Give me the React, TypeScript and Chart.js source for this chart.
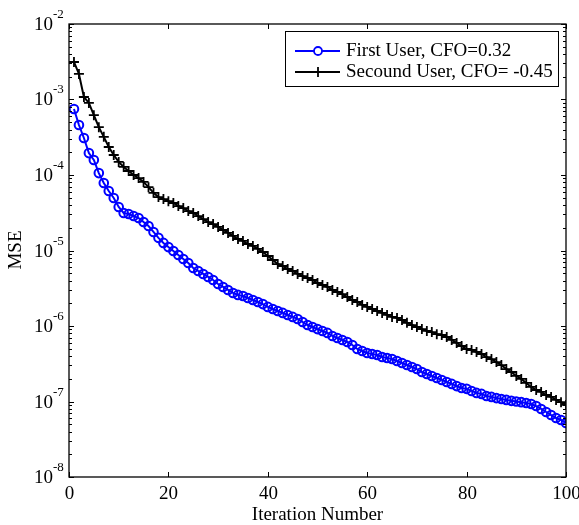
import React, { useEffect, useRef } from "react";
import { Chart, registerables } from "chart.js";

Chart.register(...registerables);

const iterations: number[] = Array.from({ length: 100 }, (_, i) => i + 1);

const firstUser: number[] = [
  7.48e-4, 4.59e-4, 3.09e-4, 1.95e-4, 1.58e-4, 1.06e-4, 7.83e-5, 6.14e-5, 4.96e-5, 3.77e-5,
  3.14e-5, 3.04e-5, 2.86e-5, 2.69e-5, 2.38e-5, 2.11e-5, 1.76e-5, 1.47e-5, 1.26e-5, 1.11e-5,
  9.85e-6, 8.71e-6, 7.71e-6, 6.83e-6, 5.86e-6, 5.35e-6, 4.89e-6, 4.46e-6, 4.07e-6, 3.6e-6,
  3.29e-6, 3.0e-6, 2.74e-6, 2.58e-6, 2.5e-6, 2.35e-6, 2.21e-6, 2.08e-6, 1.95e-6, 1.79e-6,
  1.68e-6, 1.58e-6, 1.49e-6, 1.4e-6, 1.32e-6, 1.24e-6, 1.13e-6, 1.03e-6, 9.7e-7, 9.1e-7,
  8.6e-7, 8.1e-7, 7.38e-7, 6.93e-7, 6.53e-7, 6.14e-7, 5.6e-7, 4.96e-7, 4.67e-7, 4.39e-7,
  4.26e-7, 4.13e-7, 3.88e-7, 3.77e-7, 3.65e-7, 3.44e-7, 3.24e-7, 3.04e-7, 2.86e-7, 2.69e-7,
  2.46e-7, 2.31e-7, 2.18e-7, 2.05e-7, 1.93e-7, 1.81e-7, 1.71e-7, 1.6e-7, 1.51e-7, 1.47e-7,
  1.38e-7, 1.3e-7, 1.26e-7, 1.18e-7, 1.15e-7, 1.11e-7, 1.08e-7, 1.05e-7, 1.02e-7, 1.0e-7,
  9.8e-8, 9.55e-8, 9.27e-8, 8.71e-8, 7.96e-8, 7.26e-8, 6.62e-8, 6.04e-8, 5.69e-8, 5.19e-8,
];

const secondUser: number[] = [
  3.14e-3, 2.18e-3, 1.08e-3, 9.0e-4, 6.2e-4, 4.3e-4, 3.2e-4, 2.35e-4, 1.84e-4, 1.49e-4,
  1.28e-4, 1.13e-4, 1.0e-4, 9.1e-5, 8.1e-5, 6.9e-5, 5.8e-5, 5.1e-5, 4.8e-5, 4.5e-5,
  4.26e-5, 3.88e-5, 3.65e-5, 3.33e-5, 3.14e-5, 2.86e-5, 2.61e-5, 2.38e-5, 2.24e-5, 2.05e-5,
  1.87e-5, 1.71e-5, 1.56e-5, 1.42e-5, 1.34e-5, 1.22e-5, 1.15e-5, 1.05e-5, 9.55e-6, 8.46e-6,
  7.49e-6, 6.62e-6, 6.23e-6, 5.69e-6, 5.35e-6, 4.89e-6, 4.59e-6, 4.32e-6, 4.07e-6, 3.71e-6,
  3.49e-6, 3.29e-6, 3.0e-6, 2.82e-6, 2.65e-6, 2.42e-6, 2.21e-6, 2.08e-6, 1.9e-6, 1.79e-6,
  1.68e-6, 1.58e-6, 1.49e-6, 1.4e-6, 1.32e-6, 1.28e-6, 1.2e-6, 1.1e-6, 1.03e-6, 9.7e-7,
  9.1e-7, 8.6e-7, 8.3e-7, 7.8e-7, 7.6e-7, 7.15e-7, 6.53e-7, 5.96e-7, 5.43e-7, 4.96e-7,
  4.81e-7, 4.53e-7, 4.26e-7, 3.88e-7, 3.65e-7, 3.33e-7, 3.04e-7, 2.69e-7, 2.46e-7, 2.18e-7,
  1.99e-7, 1.76e-7, 1.56e-7, 1.42e-7, 1.34e-7, 1.22e-7, 1.15e-7, 1.05e-7, 9.8e-8, 9.0e-8,
];

const xTicks: number[] = [0, 20, 40, 60, 80, 100];
const yExponents: number[] = [-8, -7, -6, -5, -4, -3, -2];
const seriesLabels: string[] = ["First User, CFO=0.32", "Secound User, CFO= -0.45"];
const xTitle = "Iteration Number";
const yTitle = "MSE";

const FONT = '"Liberation Serif", "Times New Roman", serif';

const axesPlugin = {
  id: "matlabAxes",
  afterDraw(chart: any) {
    const { ctx, chartArea } = chart;
    const { left, right, top, bottom } = chartArea;
    const xs = chart.scales.x;
    const ys = chart.scales.y;
    ctx.save();
    ctx.strokeStyle = "#000";
    ctx.fillStyle = "#000";
    ctx.lineWidth = 1.3;
    ctx.strokeRect(left, top, right - left, bottom - top);

    // x ticks
    ctx.lineWidth = 1;
    ctx.font = `19px ${FONT}`;
    ctx.textAlign = "center";
    ctx.textBaseline = "alphabetic";
    xTicks.forEach((v) => {
      const px = Math.round(xs.getPixelForValue(v)) + 0.5;
      ctx.beginPath();
      ctx.moveTo(px, bottom);
      ctx.lineTo(px, bottom - 5);
      ctx.moveTo(px, top);
      ctx.lineTo(px, top + 5);
      ctx.stroke();
      ctx.fillText(String(v), px, bottom + 22);
    });

    // y ticks
    yExponents.forEach((e, idx) => {
      const py = Math.round(ys.getPixelForValue(Math.pow(10, e))) + 0.5;
      ctx.beginPath();
      ctx.moveTo(left, py);
      ctx.lineTo(left + 5, py);
      ctx.moveTo(right, py);
      ctx.lineTo(right - 5, py);
      ctx.stroke();
      if (idx < yExponents.length - 1) {
        for (let m = 2; m <= 9; m++) {
          const my = Math.round(ys.getPixelForValue(m * Math.pow(10, e))) + 0.5;
          ctx.beginPath();
          ctx.moveTo(left, my);
          ctx.lineTo(left + 3, my);
          ctx.moveTo(right, my);
          ctx.lineTo(right - 3, my);
          ctx.stroke();
        }
      }
      ctx.font = `19px ${FONT}`;
      ctx.textAlign = "right";
      ctx.textBaseline = "middle";
      ctx.fillText("10", 53, py + 1);
      ctx.font = `13px ${FONT}`;
      ctx.textAlign = "left";
      ctx.fillText(String(e), 53, py - 10);
    });

    // titles
    ctx.font = `19px ${FONT}`;
    ctx.textAlign = "center";
    ctx.textBaseline = "middle";
    ctx.fillText(xTitle, (left + right) / 2, 515);
    ctx.save();
    ctx.translate(16, 250);
    ctx.rotate(-Math.PI / 2);
    ctx.fillText(yTitle, 0, 0);
    ctx.restore();

    // legend
    const lx = 285.5, ly = 31.5, lw = 273, lh = 55;
    ctx.fillStyle = "#fff";
    ctx.fillRect(lx, ly, lw, lh);
    ctx.strokeStyle = "#000";
    ctx.lineWidth = 1;
    ctx.strokeRect(lx, ly, lw, lh);
    const rows = [
      { y: 51, color: "#0000ff", marker: "circle" },
      { y: 72, color: "#000000", marker: "cross" },
    ];
    rows.forEach((r, i) => {
      ctx.strokeStyle = r.color;
      ctx.lineWidth = 1.8;
      ctx.beginPath();
      ctx.moveTo(295, r.y);
      ctx.lineTo(340, r.y);
      ctx.stroke();
      if (r.marker === "circle") {
        ctx.beginPath();
        ctx.arc(318, r.y, 4, 0, Math.PI * 2);
        ctx.fillStyle = "#fff";
        ctx.fill();
        ctx.stroke();
      } else {
        ctx.beginPath();
        ctx.moveTo(318, r.y - 5);
        ctx.lineTo(318, r.y + 5);
        ctx.moveTo(313, r.y);
        ctx.lineTo(323, r.y);
        ctx.stroke();
      }
      ctx.fillStyle = "#000";
      ctx.font = `19px ${FONT}`;
      ctx.textAlign = "left";
      ctx.textBaseline = "middle";
      ctx.fillText(seriesLabels[i], 346, r.y);
    });
    ctx.restore();
  },
};

export default function App() {
  const canvasRef = useRef<HTMLCanvasElement | null>(null);

  useEffect(() => {
    document.body.style.margin = "0";
    const canvas = canvasRef.current;
    if (!canvas) return;
    const chart = new Chart(canvas, {
      type: "line",
      data: {
        datasets: [
          {
            label: seriesLabels[0],
            data: iterations.map((x, i) => ({ x, y: firstUser[i] })),
            borderColor: "#0000ff",
            backgroundColor: "rgba(0,0,0,0)",
            borderWidth: 2,
            pointStyle: "circle",
            pointRadius: 4.3,
            pointBorderWidth: 2,
            pointBorderColor: "#0000ff",
            pointBackgroundColor: "rgba(0,0,0,0)",
            tension: 0,
          },
          {
            label: seriesLabels[1],
            data: iterations.map((x, i) => ({ x, y: secondUser[i] })),
            borderColor: "#000000",
            backgroundColor: "rgba(0,0,0,0)",
            borderWidth: 2,
            pointStyle: "cross",
            pointRadius: 5,
            pointBorderWidth: 1.8,
            pointBorderColor: "#000000",
            tension: 0,
          },
        ],
      },
      options: {
        responsive: false,
        animation: false,
        layout: { padding: { left: 69, right: 13, top: 24, bottom: 48 } },
        scales: {
          x: { type: "linear", min: 0, max: 100, display: false },
          y: { type: "logarithmic", min: 1e-8, max: 1e-2, display: false },
        },
        plugins: {
          legend: { display: false },
          tooltip: { enabled: false },
        },
        events: [],
      },
      plugins: [axesPlugin],
    });
    return () => chart.destroy();
  }, []);

  return (
    <div style={{ width: 579, height: 525, background: "#fff" }}>
      <canvas ref={canvasRef} width={579} height={525} style={{ display: "block" }} />
    </div>
  );
}
